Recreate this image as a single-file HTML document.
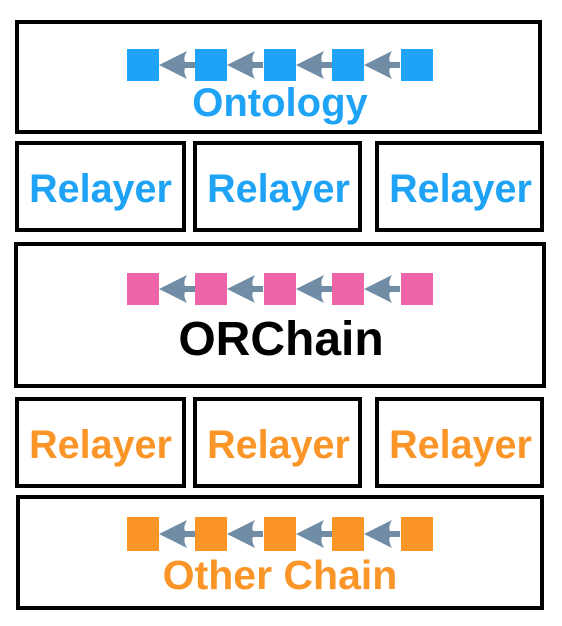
<!DOCTYPE html>
<html><head><style>
body{margin:0;width:562px;height:626px;background:#fff;position:relative;overflow:hidden;font-family:"Liberation Sans",Arial,sans-serif;font-weight:bold}
.b{position:absolute;border:4px solid #000;box-sizing:border-box}
.t{position:absolute;left:0;right:0;text-align:center;white-space:nowrap;line-height:1}
svg{position:absolute;left:0}
</style></head><body>
<div class="b" style="left:15px;top:20px;width:527px;height:114px"></div>
<div class="b" style="left:15px;top:141px;width:171px;height:91px"></div>
<div class="b" style="left:193px;top:141px;width:169px;height:91px"></div>
<div class="b" style="left:375px;top:141px;width:169px;height:91px"></div>
<div class="b" style="left:14px;top:242px;width:532px;height:146px"></div>
<div class="b" style="left:15px;top:397px;width:171px;height:91px"></div>
<div class="b" style="left:193px;top:397px;width:169px;height:91px"></div>
<div class="b" style="left:375px;top:397px;width:169px;height:91px"></div>
<div class="b" style="left:16px;top:495px;width:528px;height:115px"></div>

<svg width="562" height="626" style="top:0">
<defs>
<g id="ar"><path d="M0 0 L28 -14 Q24 -7 26 -3 L36 -3 L36 3 L26 3 Q24 7 28 14 Z" fill="#718ca5"/></g>
</defs>
<g transform="translate(0,49)">
<rect x="127" width="32" height="32" fill="#1fa3f7"/><rect x="195" width="32" height="32" fill="#1fa3f7"/><rect x="264" width="32" height="32" fill="#1fa3f7"/><rect x="332" width="32" height="32" fill="#1fa3f7"/><rect x="401" width="32" height="32" fill="#1fa3f7"/>
<use href="#ar" x="159" y="16"/><use href="#ar" x="227" y="16"/><use href="#ar" x="296" y="16"/><use href="#ar" x="364" y="16"/>
</g>
<g transform="translate(0,273)">
<rect x="127" width="32" height="32" fill="#ee64a8"/><rect x="195" width="32" height="32" fill="#ee64a8"/><rect x="264" width="32" height="32" fill="#ee64a8"/><rect x="332" width="32" height="32" fill="#ee64a8"/><rect x="401" width="32" height="32" fill="#ee64a8"/>
<use href="#ar" x="159" y="16"/><use href="#ar" x="227" y="16"/><use href="#ar" x="296" y="16"/><use href="#ar" x="364" y="16"/>
</g>
<g transform="translate(0,517)">
<rect x="127" width="32" height="34" fill="#fb9528"/><rect x="195" width="32" height="34" fill="#fb9528"/><rect x="264" width="32" height="34" fill="#fb9528"/><rect x="332" width="32" height="34" fill="#fb9528"/><rect x="401" width="32" height="34" fill="#fb9528"/>
<use href="#ar" x="159" y="17"/><use href="#ar" x="227" y="17"/><use href="#ar" x="296" y="17"/><use href="#ar" x="364" y="17"/>
</g>
</svg>

<div class="t" style="top:83px;font-size:40px;color:#1fa3f7;left:-2px">Ontology</div>
<div class="t" style="top:170px;font-size:39.5px;color:#1fa3f7;left:15px;width:171px">Relayer</div>
<div class="t" style="top:170px;font-size:39.5px;color:#1fa3f7;left:193px;width:171px">Relayer</div>
<div class="t" style="top:170px;font-size:39.5px;color:#1fa3f7;left:375px;width:171px">Relayer</div>
<div class="t" style="top:316px;font-size:48px;color:#000;left:0">ORChain</div>
<div class="t" style="top:426px;font-size:39.5px;color:#fb9528;left:15px;width:171px">Relayer</div>
<div class="t" style="top:426px;font-size:39.5px;color:#fb9528;left:193px;width:171px">Relayer</div>
<div class="t" style="top:426px;font-size:39.5px;color:#fb9528;left:375px;width:171px">Relayer</div>
<div class="t" style="top:555px;font-size:41px;color:#fb9528;left:-2px">Other Chain</div>
</body></html>
